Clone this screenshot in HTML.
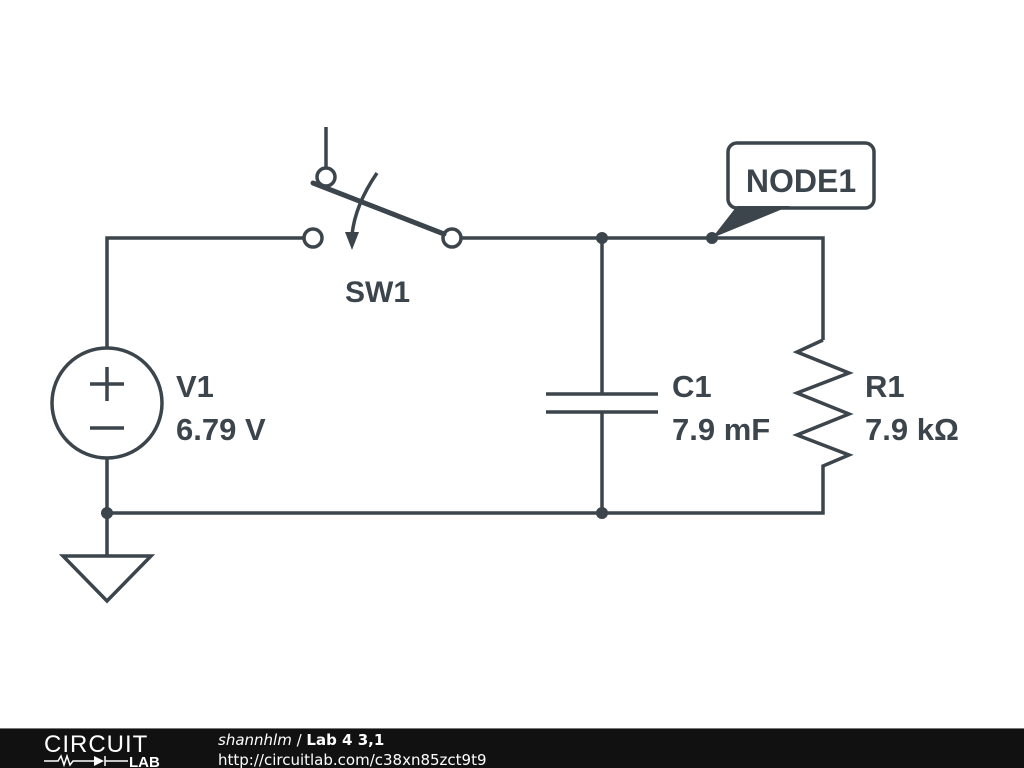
<!DOCTYPE html>
<html><head><meta charset="utf-8"><style>
html,body{margin:0;padding:0;background:#fff;}
svg{display:block;}
text{font-family:"Liberation Sans",sans-serif;}
</style></head><body>
<svg width="1024" height="768" viewBox="0 0 1024 768" xmlns="http://www.w3.org/2000/svg">
<g stroke="#3c454c" stroke-width="3.5" fill="none" stroke-linecap="butt">
<polyline points="304,238 107,238 107,348"/>
<polyline points="461,238 823,238 823,340"/>
<polyline points="823,340 797,352 849,373 797,393 849,414 797,435 849,455 823,466 823,513 107,513"/>
<line x1="107" y1="458" x2="107" y2="555"/>
<circle cx="107" cy="403" r="55"/>
<line x1="90" y1="384" x2="124" y2="384"/>
<line x1="107" y1="367" x2="107" y2="401"/>
<line x1="90" y1="428" x2="124" y2="428"/>
<polygon points="63,556 151,556 107,601" stroke-linejoin="miter"/>
<line x1="602" y1="238" x2="602" y2="394"/>
<line x1="546" y1="394" x2="658" y2="394"/>
<line x1="546" y1="412" x2="658" y2="412"/>
<line x1="602" y1="412" x2="602" y2="513"/>
<line x1="326" y1="127" x2="326" y2="168"/>
<circle cx="326" cy="177" r="9"/>
<circle cx="313" cy="238" r="9"/>
<circle cx="452" cy="238" r="9"/>
<line x1="313" y1="183" x2="444" y2="234" stroke-width="5" stroke-linecap="round"/>
<path d="M377,173 Q355,205 352,235"/>
<rect x="728" y="143" width="146" height="65" rx="9"/>
</g>
<polygon points="352,250 345,232 359,232" fill="#3c454c"/>
<polygon points="737,206 790,206 712,238" fill="#3c454c"/>
<g fill="#3c454c">
<circle cx="107" cy="513" r="6"/>
<circle cx="602" cy="513" r="6"/>
<circle cx="602" cy="238" r="6"/>
<circle cx="712" cy="238" r="6"/>
</g>
<g fill="#3c454c" font-weight="bold" font-size="31">
<text x="801" y="192" text-anchor="middle" font-size="32">NODE1</text>
<text x="345" y="302" font-size="30">SW1</text>
<text x="176" y="397">V1</text>
<text x="176" y="440">6.79 V</text>
<text x="672" y="397">C1</text>
<text x="672" y="440">7.9 mF</text>
<text x="865" y="397">R1</text>
<text x="865" y="440">7.9 kΩ</text>
</g>
<rect x="0" y="728" width="1024" height="40" fill="#111"/>
<rect x="0" y="728" width="1024" height="1" fill="#777"/>
<text x="44" y="752" font-size="24" fill="#fff" style="letter-spacing:1px">CIRCUIT</text>
<g stroke="#fff" stroke-width="1.5" fill="none">
<polyline points="44,761 58,761 61,756 64,765 67,756 70,765 73,761 94,761"/>
<line x1="105" y1="756" x2="105" y2="766"/>
<line x1="105" y1="761" x2="128" y2="761"/>
</g>
<polygon points="94,756 94,766 104,761" fill="#fff"/>
<text x="129" y="767" font-size="15" font-weight="bold" fill="#fff">LAB</text>
<text x="218" y="745" font-size="15" fill="#fff" style="font-family:'DejaVu Sans',sans-serif"><tspan font-style="italic">shannhlm</tspan> / <tspan font-weight="bold">Lab 4 3,1</tspan></text>
<text x="218" y="765" font-size="15" fill="#fff" style="font-family:'DejaVu Sans',sans-serif">http://circuitlab.com/c38xn85zct9t9</text>
</svg>
</body></html>
